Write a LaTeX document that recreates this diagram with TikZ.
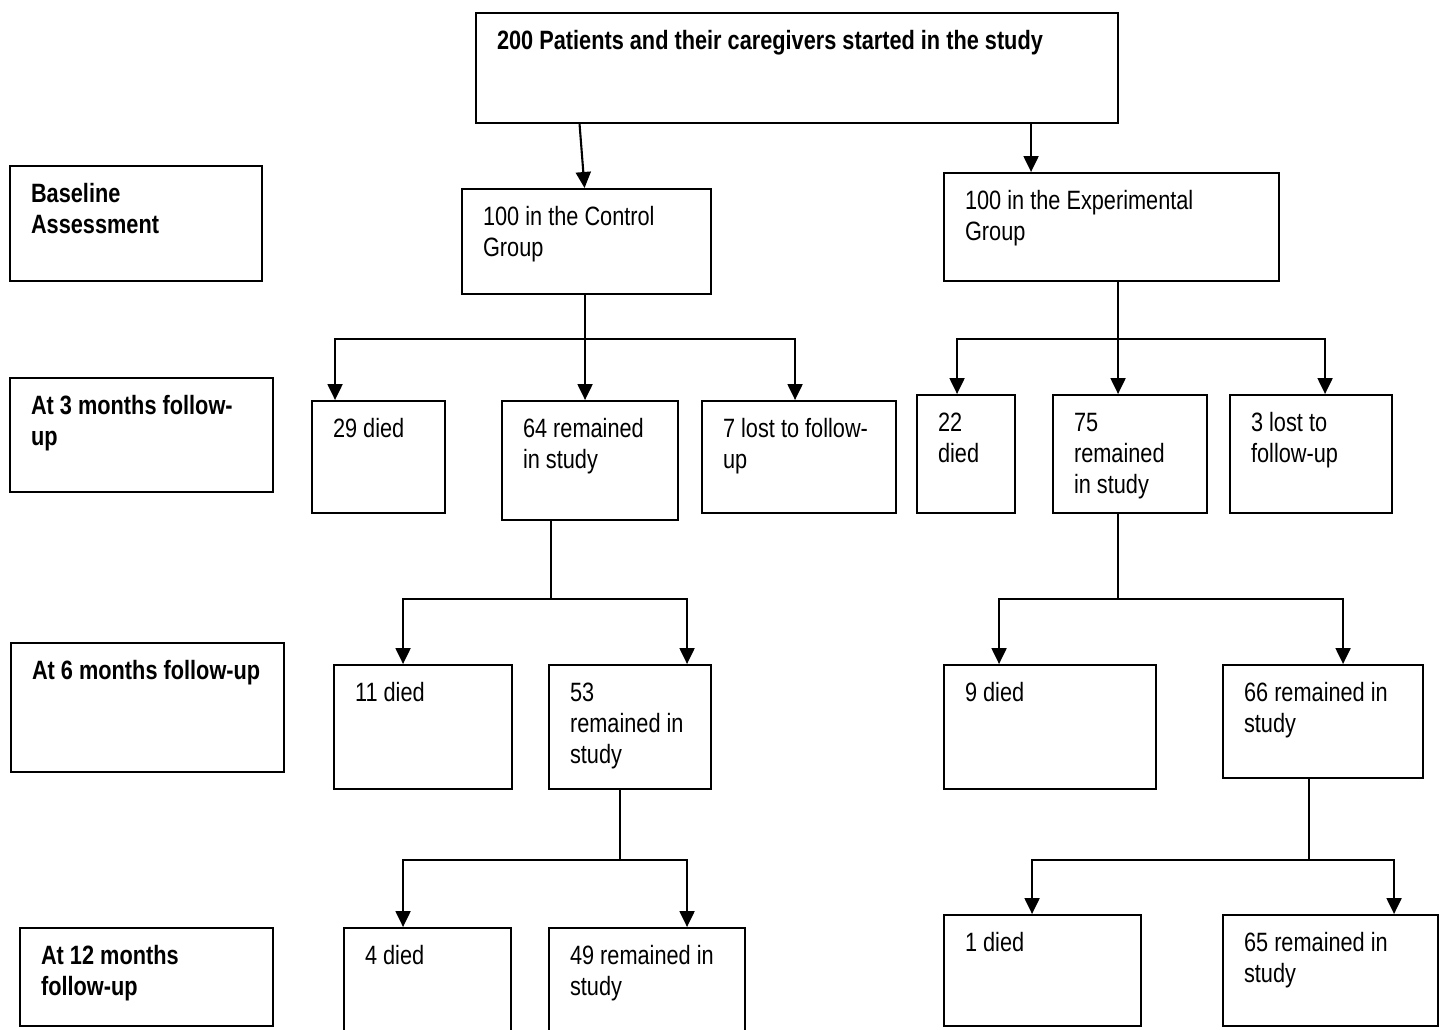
\documentclass[tikz,border=0pt]{standalone}
\usepackage{fontspec}
\setmainfont{Liberation Sans}[FakeStretch=0.82]
\usetikzlibrary{arrows.meta,calc}

\tikzset{
  box/.style={draw, line width=2.1pt, anchor=north west, inner sep=0pt, font=\fontsize{26.5}{31}\selectfont},
  link/.style={line width=2.1pt},
  arr/.style={line width=2.1pt, -{Triangle[width=15pt,length=16pt]}}
}
% box text: width, height, lines (top left)
\newcommand{\boxtxt}[3]{\parbox[t][#2][t]{#1}{\raggedright\leftskip=21pt\rule{0pt}{36pt}#3}}

\begin{document}
\begin{tikzpicture}[x=1pt,y=-1pt]
\useasboundingbox (0,0) rectangle (1442,1030);

% Top
\node[box] (top) at (475,12) {\boxtxt{642pt}{110pt}{\textbf{200 Patients and their caregivers started in the study}}};

% Row labels
\node[box] (lbase) at (9,165) {\boxtxt{252pt}{115pt}{\textbf{Baseline}\\\textbf{Assessment}}};
\node[box] (lthree) at (9,377) {\boxtxt{263pt}{114pt}{\textbf{At 3 months follow-}\\\textbf{up}}};
\node[box] (lsix) at (10,642) {\boxtxt{273pt}{129pt}{\textbf{At 6 months follow-up}}};
\node[box] (ltwelve) at (19,927) {\boxtxt{253pt}{98pt}{\textbf{At 12 months}\\\textbf{follow-up}}};

% Groups
\node[box] (ctrl) at (461,188) {\boxtxt{249pt}{105pt}{100 in the Control\\Group}};
\node[box] (exp) at (943,172) {\boxtxt{335pt}{108pt}{100 in the Experimental\\Group}};

% 3 months
\node[box] (c29) at (311,400) {\boxtxt{133pt}{112pt}{29 died}};
\node[box] (c64) at (501,400) {\boxtxt{176pt}{119pt}{64 remained\\in study}};
\node[box] (c7) at (701,400) {\boxtxt{194pt}{112pt}{7 lost to follow-\\up}};
\node[box] (e22) at (916,394) {\boxtxt{98pt}{118pt}{22\\died}};
\node[box] (e75) at (1052,394) {\boxtxt{154pt}{118pt}{75\\remained\\in study}};
\node[box] (e3) at (1229,394) {\boxtxt{162pt}{118pt}{3 lost to\\follow-up}};

% 6 months
\node[box] (c11) at (333,664) {\boxtxt{178pt}{124pt}{11 died}};
\node[box] (c53) at (548,664) {\boxtxt{162pt}{124pt}{53\\remained in\\study}};
\node[box] (e9) at (943,664) {\boxtxt{212pt}{124pt}{9 died}};
\node[box] (e66) at (1222,664) {\boxtxt{200pt}{113pt}{66 remained in\\study}};

% 12 months
\node[box] (c4) at (343,927) {\boxtxt{167pt}{112pt}{4 died}};
\node[box] (c49) at (548,927) {\boxtxt{196pt}{112pt}{49 remained in\\study}};
\node[box] (e1) at (943,914) {\boxtxt{197pt}{111pt}{1 died}};
\node[box] (e65) at (1222,914) {\boxtxt{215pt}{111pt}{65 remained in\\study}};

% Arrows from top
\coordinate (eIn) at ([xshift=-80.5pt]exp.north);
\draw[arr] ([xshift=-7pt]top.south -| ctrl.north) -- ([xshift=-2pt]ctrl.north);
\draw[arr] (top.south -| eIn) -- (eIn);

% Control, 3 months
\coordinate (cOut) at ([xshift=-1.5pt]ctrl.south);
\coordinate (cJ) at ($(cOut)+(0,44)$);
\draw[arr] (cOut) -- (cOut |- c64.north);
\draw[arr] (cJ) -| ([xshift=-43.5pt]c29.north);
\draw[arr] (cJ) -| ([xshift=-4pt]c7.north);

% Experimental, 3 months
\coordinate (eOut) at ([xshift=6.5pt]exp.south);
\coordinate (eJ) at ($(eOut)+(0,57)$);
\draw[arr] (eOut) -- (eOut |- e75.north);
\draw[arr] (eJ) -| ([xshift=-9pt]e22.north);
\draw[arr] (eJ) -| ([xshift=14pt]e3.north);

% Control, 6 months
\coordinate (cOut6) at ([xshift=-39pt]c64.south);
\coordinate (cJ6) at ($(cOut6)+(0,78)$);
\draw[link] (cOut6) -- (cJ6);
\draw[arr] (cJ6) -| ([xshift=-20pt]c11.north);
\draw[arr] (cJ6) -| ([xshift=57pt]c53.north);

% Experimental, 6 months
\coordinate (eOut6) at ([xshift=-12pt]e75.south);
\coordinate (eJ6) at ($(eOut6)+(0,85)$);
\draw[link] (eOut6) -- (eJ6);
\draw[arr] (eJ6) -| ([xshift=-51pt]e9.north);
\draw[arr] (eJ6) -| ([xshift=20pt]e66.north);

% Control, 12 months
\coordinate (cOut12) at ([xshift=-10pt]c53.south);
\coordinate (cJ12) at ($(cOut12)+(0,70)$);
\draw[link] (cOut12) -- (cJ12);
\draw[arr] (cJ12) -| ([xshift=-24.5pt]c4.north);
\draw[arr] (cJ12) -| ([xshift=40pt]c49.north);

% Experimental, 12 months
\coordinate (eOut12) at ([xshift=-14pt]e66.south);
\coordinate (eJ12) at ($(eOut12)+(0,81)$);
\draw[link] (eOut12) -- (eJ12);
\draw[arr] (eJ12) -| ([xshift=-10.5pt]e1.north);
\draw[arr] (eJ12) -| ([xshift=63.5pt]e65.north);
\end{tikzpicture}
\end{document}
